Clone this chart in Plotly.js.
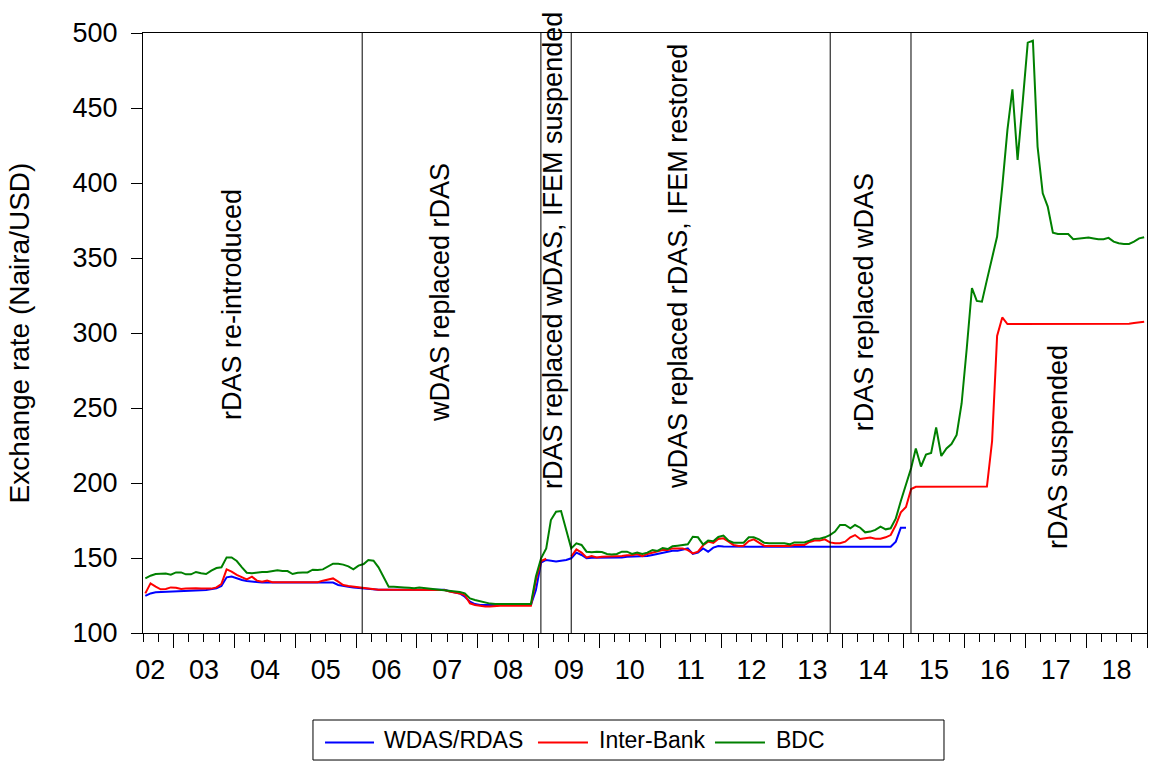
<!DOCTYPE html>
<html>
<head>
<meta charset="utf-8">
<script src="https://cdn.plot.ly/plotly-3.0.1.min.js"></script>
<style>
  html, body { margin: 0; padding: 0; background: #fff; }
  #chart { width: 1149px; height: 763px; }
</style>
</head>
<body>
<div id="chart"></div>
<script>
// Monthly observations, July 2002 - December 2018
const startYear = 2002;
const startMonth = 7;
const nMonths = 198;

// Series names and colours
const seriesNames = ['WDAS/RDAS', 'Inter-Bank', 'BDC'];
const seriesColors = ['#0000ff', '#ff0000', '#008000'];

// WDAS/RDAS official rate (Naira/USD); ends January 2015
const wdas = [
  124.7,126.4,127.1,127.2,127.3,127.4,127.6,127.8,128.0,128.2,128.4,128.5,
  128.7,129.2,129.8,131.3,137.1,137.6,136.4,135.3,134.7,134.2,133.6,133.6,
  133.6,133.6,133.6,133.6,133.6,133.6,133.6,133.6,133.6,133.6,133.6,133.6,
  133.6,133.6,132.0,131.3,130.9,130.4,130.0,129.8,129.4,129.1,128.8,128.8,
  128.8,128.8,128.8,128.8,128.8,128.8,128.8,128.8,128.8,128.8,128.8,128.8,
  127.8,127.2,126.4,124.2,120.9,119.3,118.7,118.7,118.7,118.7,118.7,118.7,
  118.7,118.7,118.7,118.7,118.7,128.7,146.9,148.7,148.2,147.6,148.2,148.7,
  149.8,153.6,152.0,149.8,150.2,150.2,150.4,150.4,150.2,150.4,150.4,150.9,
  150.9,151.3,150.9,151.3,152.0,152.7,153.6,154.2,154.9,154.9,155.8,156.4,
  152.7,153.6,156.4,154.2,156.9,158.0,157.6,157.5,157.5,157.5,157.5,157.5,
  157.5,157.5,157.5,157.5,157.5,157.5,157.5,157.5,157.5,157.5,157.5,157.5,
  157.5,157.5,157.5,157.5,157.5,157.5,157.5,157.5,157.5,157.5,157.5,157.5,
  157.5,157.5,157.5,157.5,160.9,170.2,170.2,null,null,null,null,null,
  null,null,null,null,null,null,null,null,null,null,null,null,
  null,null,null,null,null,null,null,null,null,null,null,null,
  null,null,null,null,null,null,null,null,null,null,null,null,
  null,null,null,null,null,null
];

// Inter-Bank rate; gap while IFEM was suspended (2009)
const interbank = [
  126.4,133.1,130.9,129.1,129.3,130.4,130.2,129.3,129.6,129.8,129.8,129.6,
  129.6,129.6,130.4,132.7,142.4,140.9,138.7,137.1,135.8,137.6,134.9,134.2,
  134.9,133.8,134.0,133.8,133.8,133.8,133.8,133.8,133.8,133.8,133.8,134.9,
  135.8,136.4,134.2,132.0,131.3,130.9,130.5,130.2,129.6,129.1,128.9,128.9,
  128.9,128.9,128.9,128.9,128.9,128.9,128.9,128.9,128.9,128.9,128.9,128.7,
  127.6,127.0,126.4,125.3,119.8,118.7,118.0,117.6,117.6,118.0,118.2,118.2,
  118.2,118.2,118.2,118.2,118.2,135.3,148.0,149.5,null,null,null,null,
  151.0,155.8,153.6,150.4,151.3,150.4,150.9,150.9,150.9,151.3,151.3,151.8,
  151.8,152.7,151.3,152.7,153.6,154.2,155.3,155.3,156.4,156.4,156.4,155.3,
  153.1,154.2,158.5,160.9,160.0,162.7,163.1,160.9,158.7,158.0,158.2,161.3,
  162.4,160.2,158.2,158.0,158.0,157.8,157.8,158.0,158.7,158.7,158.7,160.7,
  161.6,161.6,162.4,160.4,159.8,159.8,160.9,163.8,165.3,162.7,163.1,163.6,
  162.9,162.9,163.8,165.3,172.0,180.4,184.0,196.0,197.5,197.5,197.3,197.4,
  197.5,197.5,197.4,197.5,197.5,197.5,197.5,197.5,197.5,197.5,197.6,228.0,
  298.0,310.4,306.0,306.0,306.0,306.0,306.0,306.3,306.5,306.0,306.0,306.2,
  306.3,306.0,306.0,306.0,306.0,306.5,306.2,306.2,306.2,306.2,306.2,306.2,
  306.2,306.2,306.2,306.6,307.0,307.5
];

// Bureau de Change (BDC) rate
const bdc = [
  136.4,138.2,139.3,139.6,139.6,138.9,140.4,140.4,139.1,139.1,140.7,139.8,
  139.3,141.6,143.3,143.8,150.4,150.4,148.0,143.8,140.2,139.8,140.4,140.7,
  140.7,141.1,141.8,141.3,141.3,139.3,140.2,140.4,140.4,142.2,142.0,142.4,
  144.0,146.2,146.2,145.6,144.4,142.4,144.9,146.0,148.7,148.2,143.8,137.1,
  130.9,130.9,130.9,130.4,130.2,129.8,130.4,130.0,129.6,129.3,129.1,128.7,
  128.0,127.8,127.3,126.4,123.1,122.0,121.1,120.2,119.6,119.3,119.3,119.3,
  119.3,119.3,119.3,119.3,119.3,137.6,149.8,156.4,175.3,180.9,181.3,168.7,
  156.4,159.8,158.7,154.2,153.8,154.2,154.0,152.7,152.4,152.7,154.2,154.2,
  152.7,153.6,152.7,153.6,155.3,154.7,156.7,156.0,157.8,158.2,158.4,159.1,
  164.2,163.8,158.9,161.6,161.2,164.0,164.9,161.6,160.2,160.2,160.2,163.8,
  163.8,162.4,160.2,159.8,159.8,159.8,159.8,159.1,160.4,160.4,160.4,161.6,
  162.9,162.9,163.8,165.3,167.6,172.0,172.0,169.8,172.0,170.2,167.1,167.6,
  168.7,170.9,169.1,169.8,176.4,188.0,199.0,210.0,223.0,211.0,219.0,220.0,
  237.0,218.0,223.0,226.0,232.0,253.0,290.0,330.0,321.4,320.9,335.4,350.9,
  364.3,397.6,435.4,462.5,415.4,453.1,493.6,494.9,424.3,393.1,384.3,366.9,
  366.0,366.0,366.0,362.5,362.9,363.4,363.6,363.0,362.5,362.5,363.4,360.9,
  359.8,359.4,359.4,360.9,363.1,363.8
];

// Year tick labels
const yearLabels = ['02','03','04','05','06','07','08','09','10','11','12','13','14','15','16','17','18'];

// Policy events (vertical lines) and their labels
const eventDates = ['2006-02-06','2009-01-14','2009-07-15','2013-10-17','2015-02-14'];
const eventTexts = [
  'rDAS re-introduced',
  'wDAS replaced rDAS',
  'rDAS replaced wDAS, IFEM suspended',
  'wDAS replaced rDAS, IFEM restored',
  'rDAS replaced wDAS',
  'rDAS suspended'
];
const eventTextDates = ['2003-12-18','2007-05-20','2009-03-28','2011-04-17','2014-05-09','2017-07-16'];
const eventTextLevels = [318.7, 326.7, 354.7, 344.7, 320.7, 224.0];

// ---- build month dates ----
const pad = n => (n < 10 ? '0' + n : '' + n);
const months = [];
for (let i = 0; i < nMonths; i++) {
  const m0 = startMonth - 1 + i;
  const y = startYear + Math.floor(m0 / 12);
  const m = (m0 % 12) + 1;
  months.push(y + '-' + pad(m) + '-15');
}
// label positions: middle of each year (first, partial year label near its start)
const labelDates = yearLabels.map((lab, k) => {
  const y = 2000 + parseInt(lab, 10);
  return k === 0 ? y + '-08-13' : y + '-07-02';
});

const FONT = 'Liberation Sans, Arial, Helvetica, sans-serif';

const seriesData = [wdas, interbank, bdc];
const traces = seriesData.map((ys, k) => ({
  x: months, y: ys, name: seriesNames[k], type: 'scatter', mode: 'lines',
  line: {color: seriesColors[k], width: 2}, connectgaps: false, showlegend: false
}));
traces.push({x: labelDates, y: labelDates.map(() => null), xaxis: 'x2', yaxis: 'y',
   type: 'scatter', mode: 'lines', showlegend: false, hoverinfo: 'skip'});

const shapes = eventDates.map(d => ({
  type: 'line', xref: 'x', yref: 'paper', x0: d, x1: d, y0: 0, y1: 1,
  line: {color: '#000', width: 1}
}));

const annotations = eventTexts.map((t, k) => ({
  text: t, xref: 'x', yref: 'y', x: eventTextDates[k], y: eventTextLevels[k],
  textangle: -90, showarrow: false, xanchor: 'center', yanchor: 'middle',
  font: {family: FONT, size: 27, color: '#000'}
}));

// ---- legend box below the plot (paper coordinates) ----
const legendBox = {x0: 0.1693, x1: 0.7978, y0: -0.2117, y1: -0.145};
const legendKeyX = [[0.1813, 0.2301], [0.3934, 0.4432], [0.5697, 0.6195]];
const legendTextX = [0.2390, 0.4532, 0.6295];
const legendRowY = -0.1783;
shapes.push({type: 'rect', xref: 'paper', yref: 'paper',
  x0: legendBox.x0, x1: legendBox.x1, y0: legendBox.y0, y1: legendBox.y1,
  line: {color: '#000', width: 1}, fillcolor: 'rgba(0,0,0,0)'});
seriesNames.forEach((nm, k) => {
  shapes.push({type: 'line', xref: 'paper', yref: 'paper',
    x0: legendKeyX[k][0], x1: legendKeyX[k][1], y0: legendRowY - 0.004, y1: legendRowY - 0.004,
    line: {color: seriesColors[k], width: 2}});
  annotations.push({text: nm, xref: 'paper', yref: 'paper', x: legendTextX[k], y: legendRowY,
    xanchor: 'left', yanchor: 'middle', showarrow: false, borderpad: 0,
    font: {family: FONT, size: 23, color: '#000'}});
});

const xRange = ['2002-07-01', '2019-01-01'];

const layout = {
  width: 1149, height: 763,
  margin: {l: 143, r: 2, t: 33, b: 130},
  paper_bgcolor: '#fff', plot_bgcolor: '#fff',
  font: {family: FONT, color: '#000'},
  showlegend: false,
  xaxis: {
    type: 'date', range: xRange,
    tickmode: 'linear', tick0: '2002-01-01', dtick: 'M12',
    ticks: 'outside', ticklen: 14, tickwidth: 1, tickcolor: '#000',
    showticklabels: false,
    minor: {tickmode: 'linear', tick0: '2002-01-01', dtick: 'M3', ticks: 'outside',
            ticklen: 8, tickwidth: 1, tickcolor: '#000', showgrid: false},
    showline: true, linecolor: '#000', linewidth: 1, mirror: true,
    showgrid: false, zeroline: false, fixedrange: true
  },
  xaxis2: {
    type: 'date', range: xRange, overlaying: 'x', anchor: 'y', side: 'bottom',
    tickmode: 'array', tickvals: labelDates, ticktext: yearLabels,
    ticks: '', showline: false, showgrid: false, zeroline: false,
    ticklabelstandoff: 18,
    tickfont: {family: FONT, size: 27, color: '#000'}, fixedrange: true
  },
  yaxis: {
    range: [100, 500], tickmode: 'linear', tick0: 100, dtick: 50,
    ticks: 'outside', ticklen: 11, tickwidth: 1, tickcolor: '#000',
    ticklabelstandoff: 8,
    tickfont: {family: FONT, size: 27, color: '#000'},
    showline: true, linecolor: '#000', linewidth: 1, mirror: true,
    showgrid: false, zeroline: false, fixedrange: true,
    title: {text: 'Exchange rate (Naira/USD)', font: {family: FONT, size: 28, color: '#000'}, standoff: 34}
  },
  shapes: shapes,
  annotations: annotations
};

Plotly.newPlot('chart', traces, layout, {staticPlot: true, displayModeBar: false});
</script>
</body>
</html>
